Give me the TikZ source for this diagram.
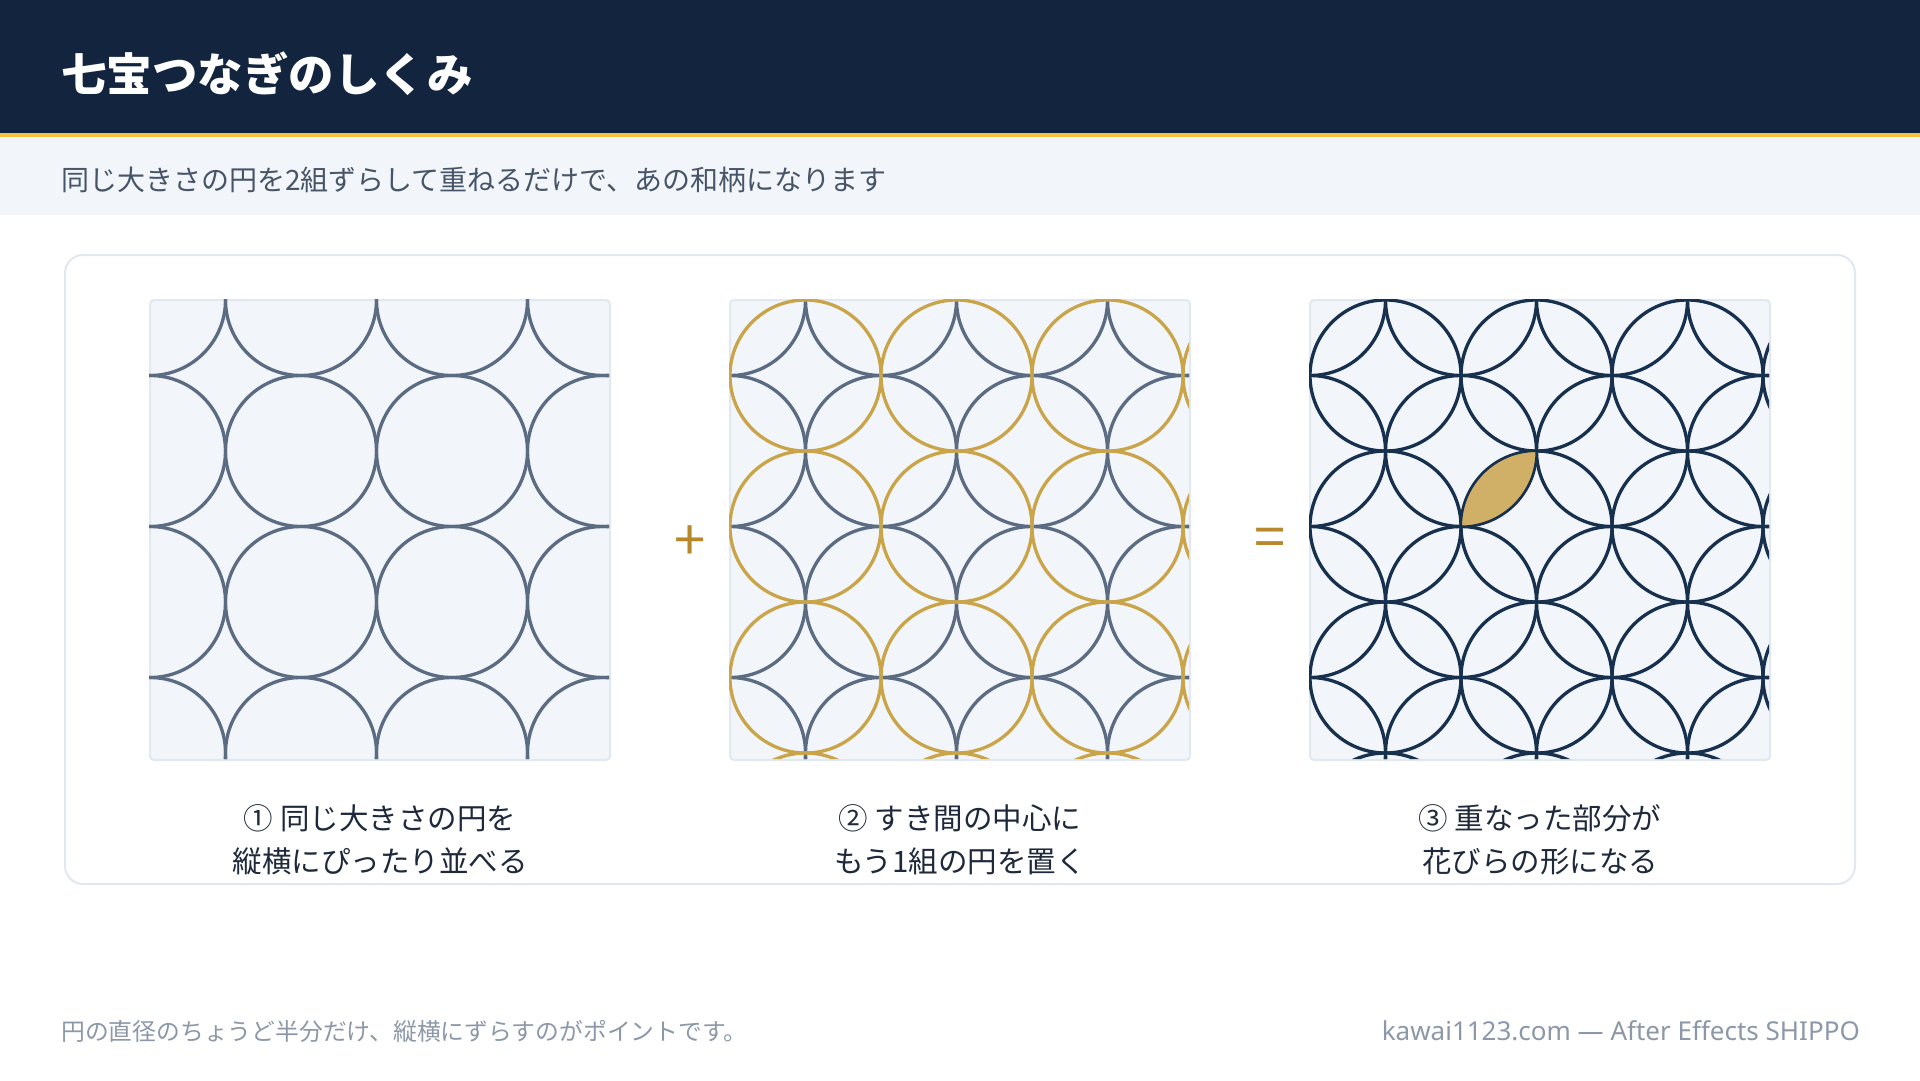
\documentclass[tikz,border=0pt]{standalone}
\usepackage{fontspec}
\setmainfont{Noto Sans CJK JP}
\newfontfamily\latinfont{Noto Sans}
\usetikzlibrary{positioning}
\definecolor{navy}{HTML}{13243F}
\definecolor{gold}{HTML}{F5C242}
\definecolor{band}{HTML}{F2F5F9}
\definecolor{tile}{HTML}{F2F6FB}
\definecolor{edge}{HTML}{E2E8F0}
\definecolor{slate}{HTML}{5B6B82}
\definecolor{ochre}{HTML}{C9A449}
\definecolor{ink}{HTML}{17304E}
\definecolor{petal}{HTML}{D0AF66}
\definecolor{sign}{HTML}{B8862B}
\definecolor{subtext}{HTML}{475569}
\definecolor{captext}{HTML}{1E293B}
\definecolor{foot}{HTML}{8C97A8}
\tikzset{
    panel/.style = {draw=edge, fill=tile, line width=2pt, rounded corners=4pt,
                    minimum size=460pt, inner sep=0pt},
    ring/.style = {line width=3.3pt},
    caption/.style = {align=center, inner sep=0pt, text=captext,
                      font=\fontsize{29.5}{43}\selectfont},
    opsign/.style = {text=sign, inner sep=0pt, font=\fontsize{56}{60}\selectfont},
    footnote/.style = {inner sep=0pt, text=foot, font=\fontsize{23.8}{28}\selectfont}
}

\begin{document}
\begin{tikzpicture}[x=1pt, y=-1pt]
    \useasboundingbox (0,0) rectangle (1920,1080);
    % header
    \fill[navy] (0,0) rectangle (1920,133);
    \fill[gold] (0,133) rectangle (1920,137);
    \fill[band] (0,137) rectangle (1920,215);
    \node[anchor=west, inner sep=0pt, text=white, font=\fontsize{45.5}{50}\selectfont\bfseries]
        (title) at (61,74) {七宝つなぎのしくみ};
    \node[anchor=west, inner sep=0pt, text=subtext, font=\fontsize{28}{32}\selectfont]
        (sub) at (61,180) {同じ大きさの円を2組ずらして重ねるだけで、あの和柄になります};
    % card
    \draw[edge, fill=white, line width=2pt, rounded corners=18pt] (65,255) rectangle (1855,884);

    \node[panel] (p1) at (380,530) {};
    \node[panel, right=118pt of p1] (p2) {};
    \node[panel, right=118pt of p2] (p3) {};

    % step 1
    \begin{scope}[shift={(p1.north west)}]
        \clip[rounded corners=4pt] (0,0) rectangle (460,460);
        \foreach \i in {0,...,3}
            \foreach \j in {0,...,3}
                \draw[ring, slate] (1+151*\i, 1+151*\j) circle (75.5);
    \end{scope}
    % step 2
    \begin{scope}[shift={(p2.north west)}]
        \clip[rounded corners=4pt] (0,0) rectangle (460,460);
        \foreach \i in {0,...,3}
            \foreach \j in {0,...,3}
                \draw[ring, slate] (1+151*\i, 1+151*\j) circle (75.5);
        \foreach \i in {0,...,3}
            \foreach \j in {0,...,3}
                \draw[ring, ochre] (76.5+151*\i, 76.5+151*\j) circle (75.5);
    \end{scope}
    % step 3
    \begin{scope}[shift={(p3.north west)}]
        \clip[rounded corners=4pt] (0,0) rectangle (460,460);
        \foreach \i in {0,...,3}
            \foreach \j in {0,...,3} {
                \draw[ring, ink] (1+151*\i, 1+151*\j) circle (75.5);
                \draw[ring, ink] (76.5+151*\i, 76.5+151*\j) circle (75.5);
            }
        \begin{scope}
            \clip (152,152) circle (75.5);
            \fill[petal] (227.5,227.5) circle (75.5);
            \draw[ink, line width=2pt] (227.5,227.5) circle (75.5);
        \end{scope}
        \begin{scope}
            \clip (227.5,227.5) circle (75.5);
            \draw[ink, line width=2pt] (152,152) circle (75.5);
        \end{scope}
    \end{scope}

    \node[opsign] (plus) at (690,543) {+};
    \node[opsign] (eq) at (1270,543) {=};

    \node[caption, below=43pt of p1] (c1) {① 同じ大きさの円を\\縦横にぴったり並べる};
    \node[caption, below=43pt of p2] (c2) {② すき間の中心に\\もう1組の円を置く};
    \node[caption, below=43pt of p3] (c3) {③ 重なった部分が\\花びらの形になる};

    % footer
    \node[footnote, anchor=west] (fl) at (61,1031) {円の直径のちょうど半分だけ、縦横にずらすのがポイントです。};
    \node[footnote, anchor=east, font=\fontsize{26}{30}\selectfont\latinfont] (fr) at (1860,1031) {kawai1123.com — After Effects SHIPPO};
\end{tikzpicture}
\end{document}
